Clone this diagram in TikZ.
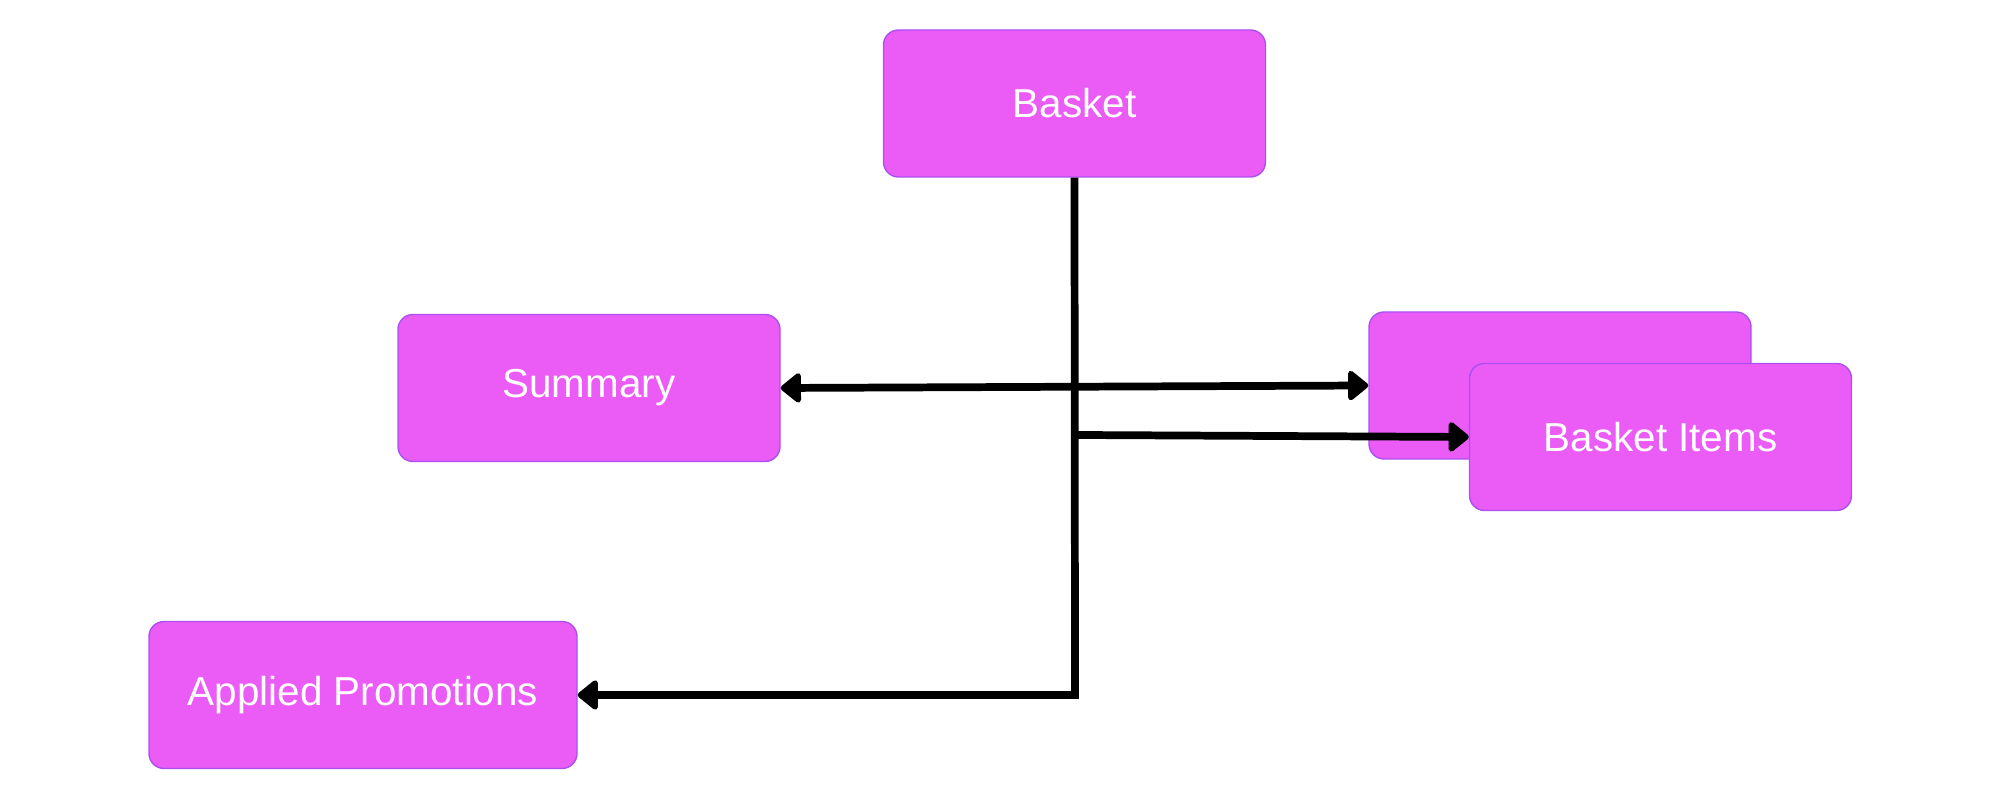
\documentclass[tikz,border=0pt]{standalone}
\usepackage{fontspec}
\setmainfont{Liberation Sans}
\usetikzlibrary{arrows.meta}

\definecolor{boxfill}{RGB}{235,91,246}
\definecolor{boxline}{RGB}{170,80,240}

\begin{document}
\begin{tikzpicture}[
        box/.style={draw=boxline, line width=0.4pt, fill=boxfill, rounded corners=1.5mm,
            minimum width=3.82cm, minimum height=1.47cm, text=white, font=\fontsize{11.5}{13}\selectfont},
        link/.style={line width=2.2pt, black},
        tip/.tip={Triangle[round, length=2.2mm, width=3.4mm]}
    ]

        \useasboundingbox (0,0) rectangle (20,8);

        % boxes

        \node [box] (basket) at (10.745,6.965) {Basket};
        \node [box] (summary) at (5.89,4.12) {Summary};
        \node [box] (itemsback) at (15.60,4.145) {};
        \node [box] (items) at (16.605,3.63) {Basket Items};
        \node [box, minimum width=4.28cm] (promo) at (3.63,1.05) {Applied Promotions};

        % links

        \coordinate (bend) at (10.75,1.05);
        \coordinate (split) at (10.78,3.65);

        \draw [link, -tip] (basket.south) -- (bend) -- (promo.east);
        \draw [link, tip-tip] (summary.east) -- (itemsback.west);
        \draw [link, -tip] (split) -- (items.west);

    \end{tikzpicture}
\end{document}
